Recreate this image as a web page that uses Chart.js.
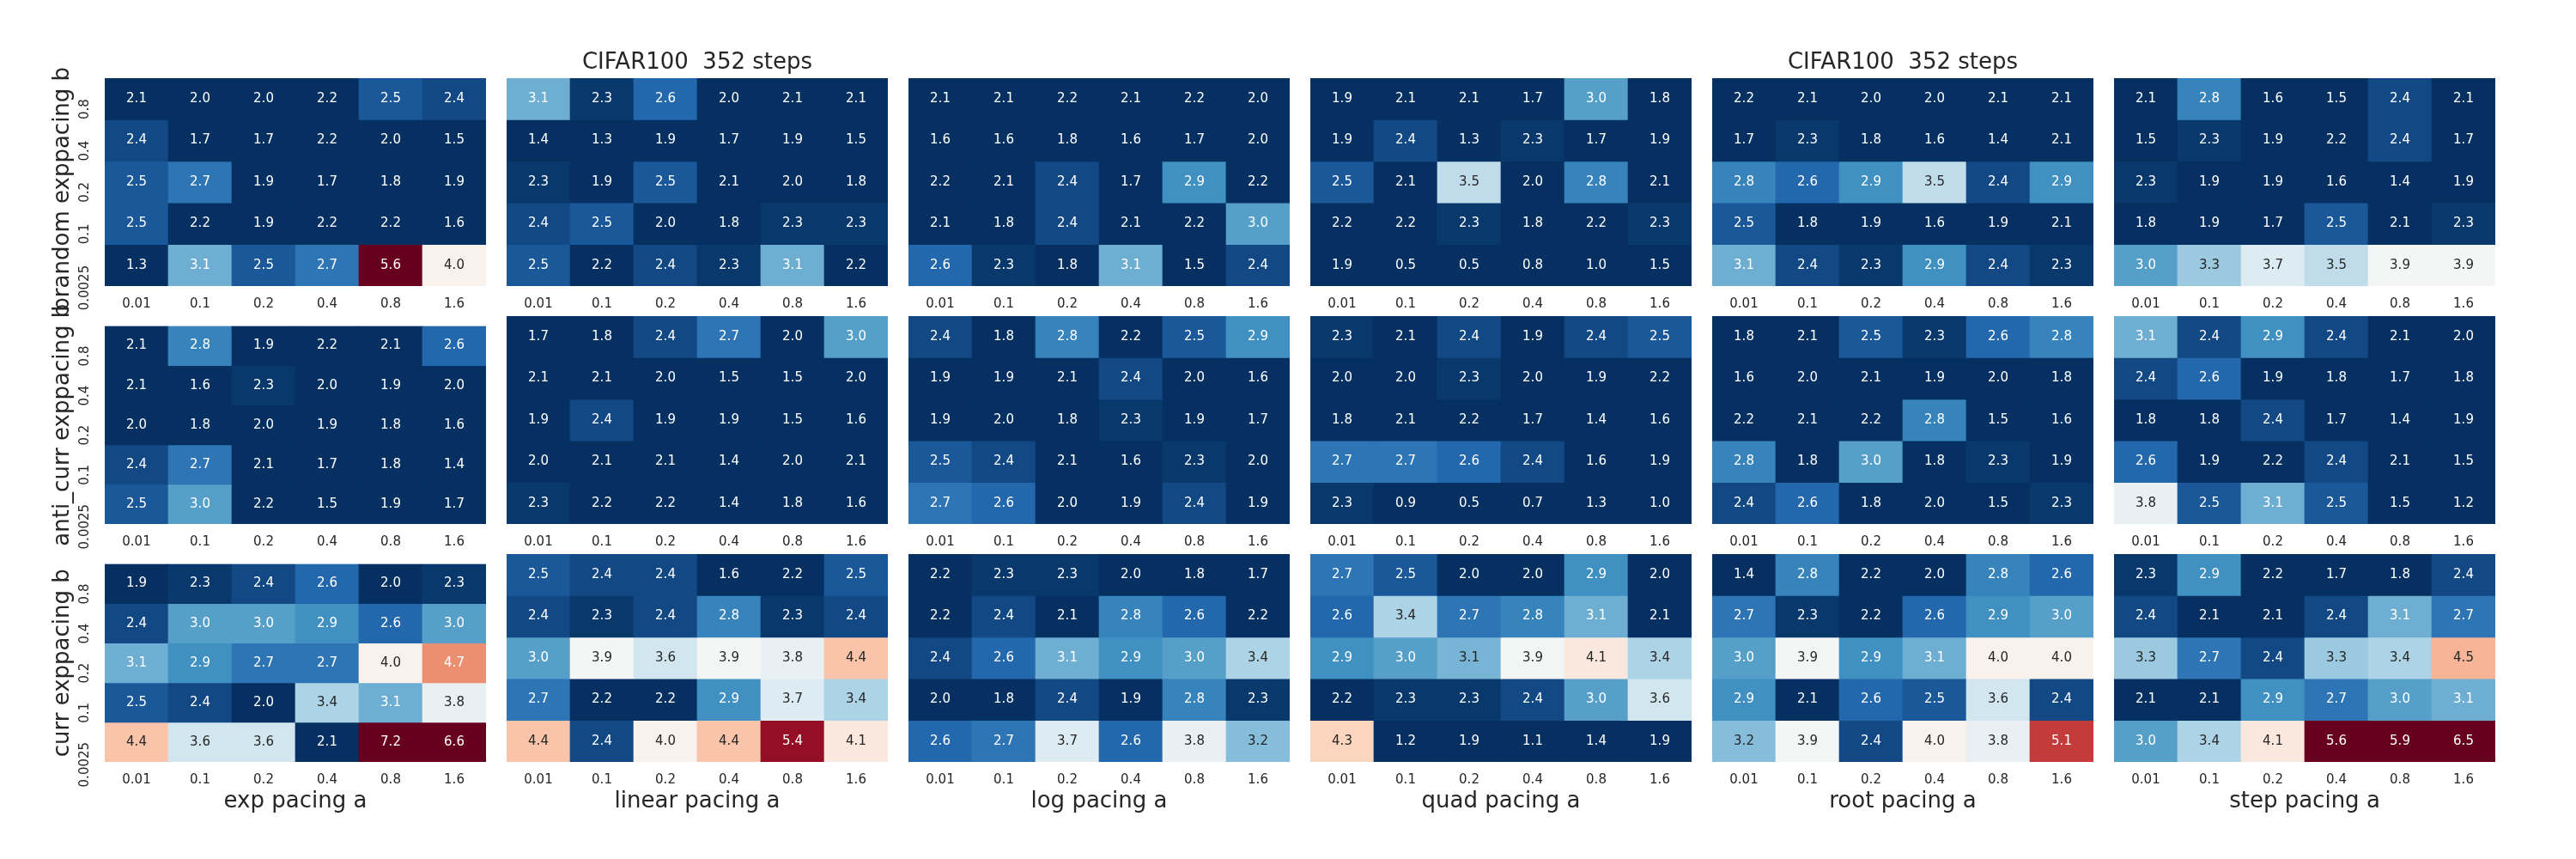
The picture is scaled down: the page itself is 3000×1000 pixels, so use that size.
<!DOCTYPE html>
<html>
<head>
<meta charset="utf-8">
<script src="https://cdn.jsdelivr.net/npm/chart.js@4.4.1/dist/chart.umd.min.js"></script>
<style>
html,body{margin:0;padding:0;background:#ffffff;}
#wrap{position:relative;width:3000px;height:1000px;background:#ffffff;overflow:hidden;}
#wrap canvas{position:absolute;}
</style>
</head>
<body>
<div id="wrap"></div>
<script>
// ---------------- data ----------------
const aLabels = ['0.01', '0.1', '0.2', '0.4', '0.8', '1.6'];
const bLabels = ['0.8', '0.4', '0.2', '0.1', '0.0025'];
const pacings = ['exp', 'linear', 'log', 'quad', 'root', 'step'];
const rowNames = ['brandom', 'anti_curr', 'curr'];
const titleText = 'CIFAR100  352 steps';
const titledColumns = [1, 4];

const brandom_exp = [
  [2.1, 2.0, 2.0, 2.2, 2.5, 2.4],
  [2.4, 1.7, 1.7, 2.2, 2.0, 1.5],
  [2.5, 2.7, 1.9, 1.7, 1.8, 1.9],
  [2.5, 2.2, 1.9, 2.2, 2.2, 1.6],
  [1.3, 3.1, 2.5, 2.7, 5.6, 4.0]
];
const brandom_linear = [
  [3.1, 2.3, 2.6, 2.0, 2.1, 2.1],
  [1.4, 1.3, 1.9, 1.7, 1.9, 1.5],
  [2.3, 1.9, 2.5, 2.1, 2.0, 1.8],
  [2.4, 2.5, 2.0, 1.8, 2.3, 2.3],
  [2.5, 2.2, 2.4, 2.3, 3.1, 2.2]
];
const brandom_log = [
  [2.1, 2.1, 2.2, 2.1, 2.2, 2.0],
  [1.6, 1.6, 1.8, 1.6, 1.7, 2.0],
  [2.2, 2.1, 2.4, 1.7, 2.9, 2.2],
  [2.1, 1.8, 2.4, 2.1, 2.2, 3.0],
  [2.6, 2.3, 1.8, 3.1, 1.5, 2.4]
];
const brandom_quad = [
  [1.9, 2.1, 2.1, 1.7, 3.0, 1.8],
  [1.9, 2.4, 1.3, 2.3, 1.7, 1.9],
  [2.5, 2.1, 3.5, 2.0, 2.8, 2.1],
  [2.2, 2.2, 2.3, 1.8, 2.2, 2.3],
  [1.9, 0.5, 0.5, 0.8, 1.0, 1.5]
];
const brandom_root = [
  [2.2, 2.1, 2.0, 2.0, 2.1, 2.1],
  [1.7, 2.3, 1.8, 1.6, 1.4, 2.1],
  [2.8, 2.6, 2.9, 3.5, 2.4, 2.9],
  [2.5, 1.8, 1.9, 1.6, 1.9, 2.1],
  [3.1, 2.4, 2.3, 2.9, 2.4, 2.3]
];
const brandom_step = [
  [2.1, 2.8, 1.6, 1.5, 2.4, 2.1],
  [1.5, 2.3, 1.9, 2.2, 2.4, 1.7],
  [2.3, 1.9, 1.9, 1.6, 1.4, 1.9],
  [1.8, 1.9, 1.7, 2.5, 2.1, 2.3],
  [3.0, 3.3, 3.7, 3.5, 3.9, 3.9]
];

const anti_curr_exp = [
  [2.1, 2.8, 1.9, 2.2, 2.1, 2.6],
  [2.1, 1.6, 2.3, 2.0, 1.9, 2.0],
  [2.0, 1.8, 2.0, 1.9, 1.8, 1.6],
  [2.4, 2.7, 2.1, 1.7, 1.8, 1.4],
  [2.5, 3.0, 2.2, 1.5, 1.9, 1.7]
];
const anti_curr_linear = [
  [1.7, 1.8, 2.4, 2.7, 2.0, 3.0],
  [2.1, 2.1, 2.0, 1.5, 1.5, 2.0],
  [1.9, 2.4, 1.9, 1.9, 1.5, 1.6],
  [2.0, 2.1, 2.1, 1.4, 2.0, 2.1],
  [2.3, 2.2, 2.2, 1.4, 1.8, 1.6]
];
const anti_curr_log = [
  [2.4, 1.8, 2.8, 2.2, 2.5, 2.9],
  [1.9, 1.9, 2.1, 2.4, 2.0, 1.6],
  [1.9, 2.0, 1.8, 2.3, 1.9, 1.7],
  [2.5, 2.4, 2.1, 1.6, 2.3, 2.0],
  [2.7, 2.6, 2.0, 1.9, 2.4, 1.9]
];
const anti_curr_quad = [
  [2.3, 2.1, 2.4, 1.9, 2.4, 2.5],
  [2.0, 2.0, 2.3, 2.0, 1.9, 2.2],
  [1.8, 2.1, 2.2, 1.7, 1.4, 1.6],
  [2.7, 2.7, 2.6, 2.4, 1.6, 1.9],
  [2.3, 0.9, 0.5, 0.7, 1.3, 1.0]
];
const anti_curr_root = [
  [1.8, 2.1, 2.5, 2.3, 2.6, 2.8],
  [1.6, 2.0, 2.1, 1.9, 2.0, 1.8],
  [2.2, 2.1, 2.2, 2.8, 1.5, 1.6],
  [2.8, 1.8, 3.0, 1.8, 2.3, 1.9],
  [2.4, 2.6, 1.8, 2.0, 1.5, 2.3]
];
const anti_curr_step = [
  [3.1, 2.4, 2.9, 2.4, 2.1, 2.0],
  [2.4, 2.6, 1.9, 1.8, 1.7, 1.8],
  [1.8, 1.8, 2.4, 1.7, 1.4, 1.9],
  [2.6, 1.9, 2.2, 2.4, 2.1, 1.5],
  [3.8, 2.5, 3.1, 2.5, 1.5, 1.2]
];

const curr_exp = [
  [1.9, 2.3, 2.4, 2.6, 2.0, 2.3],
  [2.4, 3.0, 3.0, 2.9, 2.6, 3.0],
  [3.1, 2.9, 2.7, 2.7, 4.0, 4.7],
  [2.5, 2.4, 2.0, 3.4, 3.1, 3.8],
  [4.4, 3.6, 3.6, 2.1, 7.2, 6.6]
];
const curr_linear = [
  [2.5, 2.4, 2.4, 1.6, 2.2, 2.5],
  [2.4, 2.3, 2.4, 2.8, 2.3, 2.4],
  [3.0, 3.9, 3.6, 3.9, 3.8, 4.4],
  [2.7, 2.2, 2.2, 2.9, 3.7, 3.4],
  [4.4, 2.4, 4.0, 4.4, 5.4, 4.1]
];
const curr_log = [
  [2.2, 2.3, 2.3, 2.0, 1.8, 1.7],
  [2.2, 2.4, 2.1, 2.8, 2.6, 2.2],
  [2.4, 2.6, 3.1, 2.9, 3.0, 3.4],
  [2.0, 1.8, 2.4, 1.9, 2.8, 2.3],
  [2.6, 2.7, 3.7, 2.6, 3.8, 3.2]
];
const curr_quad = [
  [2.7, 2.5, 2.0, 2.0, 2.9, 2.0],
  [2.6, 3.4, 2.7, 2.8, 3.1, 2.1],
  [2.9, 3.0, 3.14, 3.9, 4.1, 3.4],
  [2.2, 2.3, 2.3, 2.4, 3.0, 3.6],
  [4.3, 1.2, 1.9, 1.1, 1.4, 1.9]
];
const curr_root = [
  [1.4, 2.8, 2.2, 2.0, 2.8, 2.6],
  [2.7, 2.3, 2.2, 2.6, 2.9, 3.0],
  [3.0, 3.9, 2.9, 3.1, 4.0, 4.0],
  [2.9, 2.1, 2.6, 2.5, 3.6, 2.4],
  [3.2, 3.9, 2.4, 4.0, 3.8, 5.1]
];
const curr_step = [
  [2.3, 2.9, 2.2, 1.7, 1.8, 2.4],
  [2.4, 2.1, 2.1, 2.4, 3.1, 2.7],
  [3.3, 2.7, 2.4, 3.3, 3.4, 4.5],
  [2.1, 2.1, 2.9, 2.7, 3.0, 3.1],
  [3.0, 3.4, 4.1, 5.6, 5.9, 6.5]
];

const gridValues = [
  [brandom_exp, brandom_linear, brandom_log, brandom_quad, brandom_root, brandom_step],
  [anti_curr_exp, anti_curr_linear, anti_curr_log, anti_curr_quad, anti_curr_root, anti_curr_step],
  [curr_exp, curr_linear, curr_log, curr_quad, curr_root, curr_step]
];

// ---------------- colour map (RdBu_r) ----------------
const VMIN = 2.25, VMAX = 5.6;
const STOPS = [[5,48,97],[33,102,172],[67,147,195],[146,197,222],[209,229,240],[247,247,247],
               [253,219,199],[244,165,130],[214,96,77],[178,24,43],[103,0,31]];
function cmap(v) {
  let t = (v - VMIN) / (VMAX - VMIN);
  t = Math.max(0, Math.min(1, t));
  const s = t * 10;
  const i = Math.min(9, Math.floor(s));
  const f = s - i;
  const a = STOPS[i], b = STOPS[i + 1];
  return [0, 1, 2].map(k => a[k] + (b[k] - a[k]) * f);
}
function rgbStr(c) { return 'rgb(' + c.map(x => Math.round(x)).join(',') + ')'; }
function relLum(c) {
  const l = c.map(x => { x /= 255; return x <= 0.03928 ? x / 12.92 : Math.pow((x + 0.055) / 1.055, 2.4); });
  return 0.2126 * l[0] + 0.7152 * l[1] + 0.0722 * l[2];
}
function textColor(v) { return relLum(cmap(v)) > 0.408 ? '#262626' : '#ffffff'; }

// ---------------- layout ----------------
const FONT = "'DejaVu Sans', 'Liberation Sans', sans-serif";
Chart.defaults.font.family = FONT;
const PANEL_W = 444, PANEL_H = 242;
const COL_LEFT = [122, 590, 1058, 1526, 1994, 2462];
const ROW_TOP = [91, 368, 645];
const YAXIS_W = 82;
// the first row's label sits slightly lower in the reference (its "b" overlaps the next row's)
const ROW_LABEL_TRAIL = ['  ', '', ''];

const annotPlugin = {
  id: 'cellAnnot',
  afterDatasetsDraw(chart) {
    const ctx = chart.ctx;
    ctx.save();
    ctx.font = "15px " + FONT;
    ctx.textAlign = 'center';
    ctx.textBaseline = 'middle';
    chart.data.datasets.forEach((ds, di) => {
      const meta = chart.getDatasetMeta(di);
      meta.data.forEach((el, j) => {
        const v = ds.data[j].v;
        const p = el.getCenterPoint();
        ctx.fillStyle = textColor(v);
        ctx.fillText(v.toFixed(1), p.x, p.y);
      });
    });
    ctx.restore();
  }
};

const wrap = document.getElementById('wrap');

for (let r = 0; r < 3; r++) {
  for (let c = 0; c < 6; c++) {
    const vals = gridValues[r][c];
    const hasTitle = (r === 0 && titledColumns.includes(c));
    const leftExtra = c === 0 ? YAXIS_W : 0;
    const topExtra = r === 0 ? 51 : 20;
    const bottomExtra = r === 2 ? 110 : 45;
    const w = leftExtra + PANEL_W;
    const h = topExtra + PANEL_H + bottomExtra;
    const cv = document.createElement('canvas');
    cv.width = w; cv.height = h;
    cv.style.width = w + 'px'; cv.style.height = h + 'px';
    cv.style.left = (COL_LEFT[c] - leftExtra) + 'px';
    cv.style.top = (ROW_TOP[r] - topExtra) + 'px';
    wrap.appendChild(cv);

    const datasets = bLabels.map((b, i) => ({
      label: b,
      data: vals[i].map((v, j) => ({ x: aLabels[j], y: [i, i + 1], v: v })),
      backgroundColor: ctx => (ctx.raw ? rgbStr(cmap(ctx.raw.v)) : '#000'),
      borderWidth: 0,
      grouped: false,
      barPercentage: 1,
      categoryPercentage: 1
    }));

    new Chart(cv, {
      type: 'bar',
      data: { labels: aLabels, datasets: datasets },
      options: {
        responsive: false,
        animation: false,
        events: [],
        layout: { padding: { top: hasTitle ? 0 : topExtra, left: 0, right: 0, bottom: 0 } },
        plugins: {
          legend: { display: false },
          tooltip: { enabled: false },
          title: {
            display: hasTitle,
            text: titleText,
            color: '#262626',
            font: { size: 26, weight: 'normal', family: FONT, lineHeight: 1.2 },
            padding: { top: 17.4, bottom: 2.4 }
          }
        },
        scales: {
          x: {
            type: 'category',
            offset: true,
            grid: { display: false, drawTicks: false },
            border: { display: false },
            ticks: { color: '#262626', font: { size: 15, family: FONT }, padding: 12, maxRotation: 0, minRotation: 0, autoSkip: false },
            title: {
              display: r === 2,
              text: pacings[c] + ' pacing a',
              color: '#262626',
              font: { size: 26, family: FONT, lineHeight: 1.2 },
              padding: { top: 0, bottom: 48.4 }
            },
            afterFit: s => { s.height = bottomExtra; }
          },
          y: {
            type: 'linear',
            min: 0, max: 5,
            reverse: true,
            display: c === 0,
            grid: { display: false, drawTicks: false },
            border: { display: false },
            afterBuildTicks: s => { s.ticks = bLabels.map((_, i) => ({ value: i + 0.5 })); },
            ticks: {
              callback: (v, i) => bLabels[i],
              minRotation: 90, maxRotation: 90,
              crossAlign: 'near',
              padding: 22.5,
              color: '#262626',
              font: { size: 15, family: FONT }
            },
            title: {
              display: c === 0,
              text: rowNames[r] + ' exppacing b' + ROW_LABEL_TRAIL[r],
              color: '#262626',
              font: { size: 26, family: FONT, lineHeight: 1.2 },
              padding: { top: 17.4, bottom: 0 }
            },
            afterFit: s => { s.width = (c === 0 ? YAXIS_W : 0); }
          }
        }
      },
      plugins: [annotPlugin]
    });
  }
}
</script>
</body>
</html>
